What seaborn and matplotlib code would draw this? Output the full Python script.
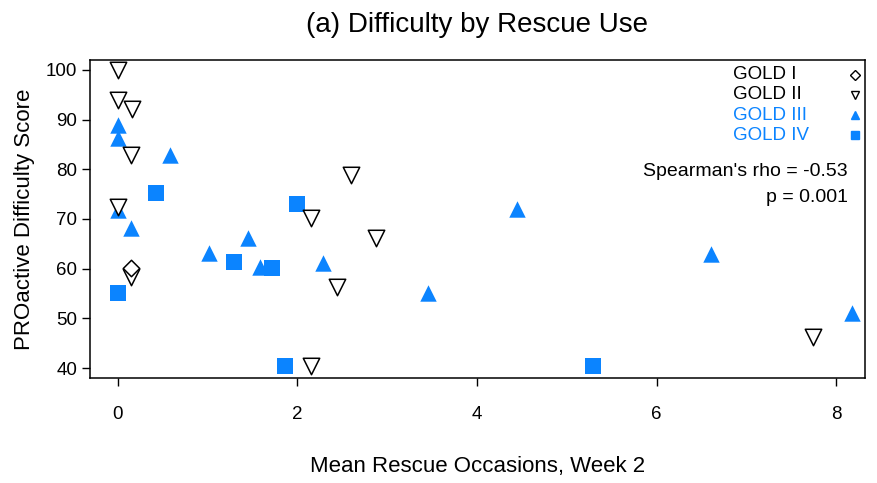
import matplotlib
matplotlib.use("Agg")
import matplotlib.pyplot as plt
import seaborn as sns
import pandas as pd

# values
gold1_x = [0.15]
gold1_y = [60.2]

gold2_x = [0.0, 0.0, 0.16, 0.15, 0.0, 0.15, 2.15, 2.60, 2.88, 2.44, 2.15, 7.74]
gold2_y = [100.0, 94.0, 92.2, 82.9, 72.4, 58.3, 70.2, 78.9, 66.2, 56.3, 40.4, 46.3]

gold3_x = [0.0, 0.0, 0.58, 0.0, 0.15, 1.01, 1.45, 1.58, 2.29, 3.45, 4.44, 6.60, 8.17]
gold3_y = [88.9, 86.3, 82.9, 71.8, 68.2, 63.2, 66.2, 60.4, 61.2, 55.1, 72.0, 63.0, 51.1]

gold4_x = [0.0, 0.42, 1.29, 1.72, 2.00, 1.86, 5.29]
gold4_y = [55.1, 75.2, 61.4, 60.2, 73.0, 40.4, 40.4]

groups = ["GOLD I", "GOLD II", "GOLD III", "GOLD IV"]
x_ticks = [0, 2, 4, 6, 8]
y_ticks = [40, 50, 60, 70, 80, 90, 100]

blue = "#0b84ff"

df = pd.concat([
    pd.DataFrame({"x": gold1_x, "y": gold1_y, "grp": "GOLD I"}),
    pd.DataFrame({"x": gold2_x, "y": gold2_y, "grp": "GOLD II"}),
    pd.DataFrame({"x": gold3_x, "y": gold3_y, "grp": "GOLD III"}),
    pd.DataFrame({"x": gold4_x, "y": gold4_y, "grp": "GOLD IV"}),
])

sns.set_style("ticks")
plt.rcParams["font.family"] = ["Liberation Sans", "DejaVu Sans"]
plt.rcParams["text.color"] = "black"
plt.rcParams["axes.labelcolor"] = "black"
plt.rcParams["xtick.color"] = "black"
plt.rcParams["ytick.color"] = "black"

fig = plt.figure(figsize=(8.77, 4.83), dpi=100)
ax = fig.add_axes([0.1026, 0.2174, 0.8837, 0.6584])

styles = {
    "GOLD I": dict(marker="D", s=70, facecolor="white", edgecolor="black", linewidth=1.1),
    "GOLD II": dict(marker="v", s=140, facecolor="white", edgecolor="black", linewidth=1.1),
    "GOLD III": dict(marker="^", s=140, color=blue, edgecolor=blue, linewidth=0),
    "GOLD IV": dict(marker="s", s=120, color=blue, edgecolor=blue, linewidth=0),
}
# draw GOLD IV first so the others sit on top like the original
for g in ["GOLD IV", "GOLD III", "GOLD II", "GOLD I"]:
    sub = df[df["grp"] == g]
    sns.scatterplot(data=sub, x="x", y="y", ax=ax, legend=False, **styles[g])

# legend: left-aligned coloured labels with the symbol on the right
key_style = [
    dict(marker="D", ms=5, mfc="white", mec="black", mew=1),
    dict(marker="v", ms=6, mfc="white", mec="black", mew=1),
    dict(marker="^", ms=6, mfc=blue, mec=blue),
    dict(marker="s", ms=6, mfc=blue, mec=blue),
]
label_colors = ["black", "black", blue, blue]
for i, g in enumerate(groups):
    yy = 0.953 - i * 0.063
    ax.text(0.830, yy, g, transform=ax.transAxes, ha="left", va="center",
            fontsize=13.5, color=label_colors[i])
    ax.plot([0.987], [yy], transform=ax.transAxes, ls="", clip_on=False,
            **key_style[i])

ax.text(0.978, 0.648, "Spearman's rho = -0.53", transform=ax.transAxes,
        ha="right", va="center", fontsize=14)
ax.text(0.978, 0.569, "p = 0.001", transform=ax.transAxes,
        ha="right", va="center", fontsize=14)

ax.set_xlim(-0.31, 8.32)
ax.set_ylim(38.0, 102.0)
ax.set_xticks(x_ticks)
ax.set_yticks(y_ticks)
ax.tick_params(axis="x", direction="out", length=6, width=1, pad=14, labelsize=13.5)
ax.tick_params(axis="y", direction="out", length=6, width=1, pad=3, labelsize=13.5)
for sp in ax.spines.values():
    sp.set_visible(True)
    sp.set_linewidth(1.1)
    sp.set_color("black")

ax.set_xlabel("Mean Rescue Occasions, Week 2", fontsize=16, labelpad=24)
ax.set_ylabel("PROactive Difficulty Score", fontsize=16, labelpad=8)
ax.set_title("(a) Difficulty by Rescue Use", fontsize=20, pad=20)

fig.savefig("out.png", dpi=100)
